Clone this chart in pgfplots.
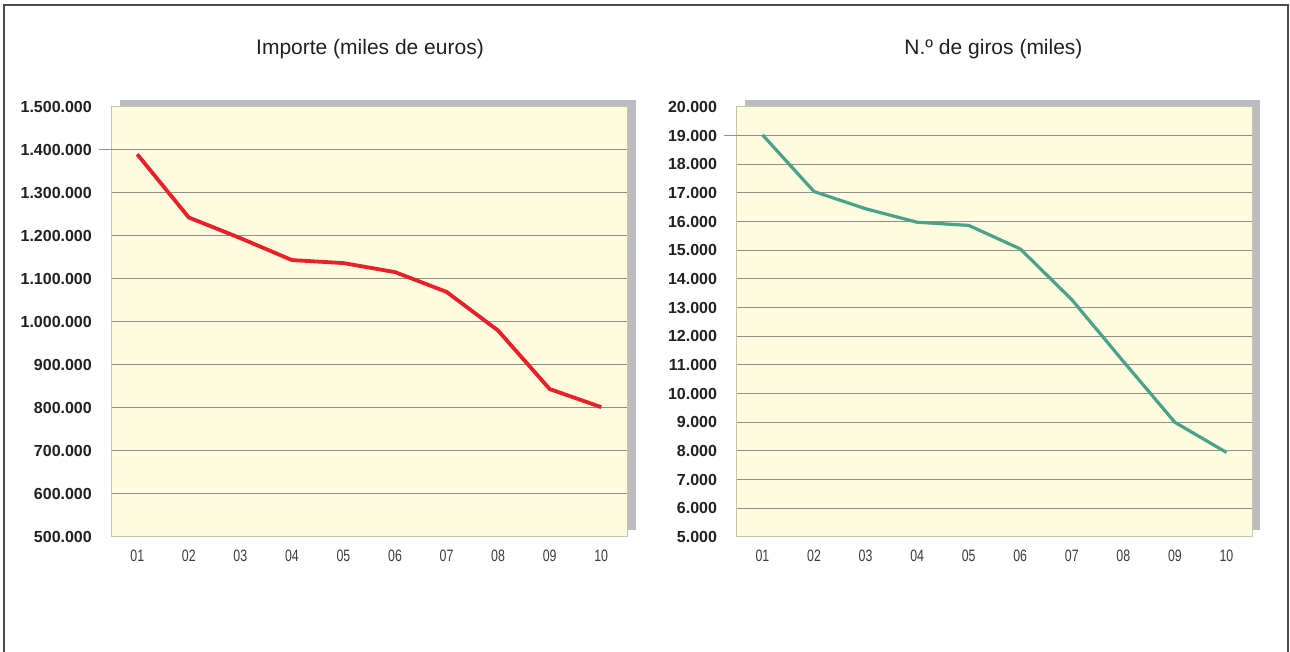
\documentclass[border=0pt]{standalone}
\usepackage{pgfplots}
\pgfplotsset{compat=1.18}
\usepackage{graphicx}
\usepackage{fontspec}
\setmainfont{Liberation Sans}
\definecolor{plotbg}{HTML}{FEFBDF}
\definecolor{shadowc}{HTML}{BCBDC0}
\definecolor{gridc}{HTML}{8E8E8E}
\definecolor{borderc}{HTML}{C6C3AE}
\definecolor{linered}{HTML}{E8202A}
\definecolor{lineteal}{HTML}{4AA28A}
\definecolor{framec}{HTML}{4A4A4A}
\definecolor{labc}{HTML}{231F20}
\definecolor{xlabc}{HTML}{3C3C3C}

\pgfplotsset{
  panel/.style={
    scale only axis,
    width=515.5pt, height=430pt,
    xmin=0.5, xmax=10.5,
    scaled y ticks=false,
    axis line style={borderc, line width=1pt},
    axis background/.style={fill=plotbg},
    xtick={1,2,3,4,5,6,7,8,9,10},
    xticklabels={\scalebox{0.75}[1]{01},\scalebox{0.75}[1]{02},\scalebox{0.75}[1]{03},\scalebox{0.75}[1]{04},\scalebox{0.75}[1]{05},\scalebox{0.75}[1]{06},\scalebox{0.75}[1]{07},\scalebox{0.75}[1]{08},\scalebox{0.75}[1]{09},\scalebox{0.75}[1]{10}},
    major tick length=0pt,
    tick style={draw=none},
    xticklabel style={font=\fontsize{16.5}{16.5}\selectfont, text=xlabc, anchor=center, inner sep=0pt, yshift=-19pt},
    yticklabel style={font=\bfseries\fontsize{16}{16}\selectfont, text=labc, anchor=east, inner sep=0pt, xshift=-19.5pt},
    extra tick style={grid=major, major grid style={draw=gridc, line width=1pt, shorten <=-12.5pt}},
    ytick pos=left, xtick pos=bottom,
    clip=false,
  }
}

\begin{document}
\begin{tikzpicture}[x=1pt,y=1pt]
\useasboundingbox (0,0) rectangle (1290,652);
% outer frame
\draw[framec, line width=1.8pt] (4,-5) -- (4,647) -- (1288,647) -- (1288,-5);
% titles
\node[text=labc, font=\fontsize{21}{25}\selectfont] at (370,603) {Importe (miles de euros)};
\node[text=labc, font=\fontsize{21}{25}\selectfont] at (993.5,603) {N.º de giros (miles)};
% shadows
\fill[shadowc] (119.5,122) rectangle (635.5,552);
\fill[shadowc] (744.7,122) rectangle (1260,552);

\begin{axis}[panel, at={(111.5pt,115pt)}, anchor=south west,
  ymin=500000, ymax=1500000,
  ytick={500000,600000,700000,800000,900000,1000000,1100000,1200000,1300000,1400000,1500000},
  yticklabels={500.000,600.000,700.000,800.000,900.000,1.000.000,1.100.000,1.200.000,1.300.000,1.400.000,1.500.000},
  extra y ticks={600000,700000,800000,900000,1000000,1100000,1200000,1300000,1400000},
  extra y tick labels={},
]
\addplot[linered, line width=3.8pt, line join=round] coordinates {
 (1,1390000) (2,1243000) (3,1195000) (4,1144000) (5,1137000)
 (6,1116000) (7,1070000) (8,980000) (9,844000) (10,802000)};
\end{axis}

\begin{axis}[panel, at={(736.7pt,115pt)}, anchor=south west,
  ymin=5000, ymax=20000,
  ytick={5000,6000,7000,8000,9000,10000,11000,12000,13000,14000,15000,16000,17000,18000,19000,20000},
  yticklabels={5.000,6.000,7.000,8.000,9.000,10.000,11.000,12.000,13.000,14.000,15.000,16.000,17.000,18.000,19.000,20.000},
  extra y ticks={6000,7000,8000,9000,10000,11000,12000,13000,14000,15000,16000,17000,18000,19000},
  extra y tick labels={},
]
\addplot[lineteal, line width=3.2pt, line join=round] coordinates {
 (1,19030) (2,17050) (3,16450) (4,15980) (5,15870)
 (6,15050) (7,13280) (8,11125) (9,9000) (10,7950)};
\end{axis}
\end{tikzpicture}
\end{document}
